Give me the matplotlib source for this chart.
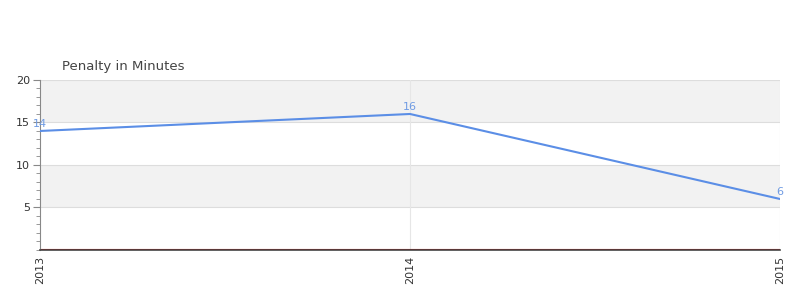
import matplotlib
matplotlib.use("Agg")
import matplotlib.pyplot as plt
from matplotlib.ticker import MultipleLocator

years = [2013, 2014, 2015]
penalty = [14, 16, 6]
yticks = [5, 10, 15, 20]

fig = plt.figure(figsize=(8, 3), dpi=100)
ax = fig.add_axes([0.05, 0.1667, 0.925, 0.5667])

ax.set_xlim(2013, 2015)
ax.set_ylim(0, 20)

# alternating bands
for lo, hi, c in [(15, 20, "#f2f2f2"), (5, 10, "#f2f2f2")]:
    ax.axhspan(lo, hi, color=c, zorder=0, lw=0)
for y in yticks:
    ax.axhline(y, color="#dddddd", lw=0.8, zorder=1)
for x in years[1:]:
    ax.axvline(x, color="#e6e6e6", lw=0.8, zorder=1)

ax.plot(years, penalty, color="#5b8ee6", lw=1.5, zorder=3)
for x, y in zip(years, penalty):
    ax.annotate(str(y), (x, y), xytext=(0, 1.5), textcoords="offset points",
                ha="center", va="bottom", fontsize=8, color="#6f9be3", zorder=4)

ax.axhline(0.1, color="#cc0000", lw=0.8, zorder=2)

for s in ["top", "right"]:
    ax.spines[s].set_visible(False)
ax.spines["left"].set_color("#888888")
ax.spines["bottom"].set_color("#444444")
ax.spines["bottom"].set_linewidth(1.2)

ax.set_xticks(years)
ax.set_xticklabels([str(y) for y in years], rotation=90, fontsize=8, color="#333333")
ax.set_yticks(yticks)
ax.set_yticklabels([str(y) for y in yticks], fontsize=8, color="#333333")
ax.yaxis.set_minor_locator(MultipleLocator(1))
ax.tick_params(axis="y", which="major", length=5, color="#888888", pad=2)
ax.tick_params(axis="y", which="minor", length=3, color="#888888")
ax.tick_params(axis="x", length=0, pad=4)

fig.text(0.0775, 0.777, "Penalty in Minutes", fontsize=9.5, color="#444444", ha="left", va="center")

fig.savefig("out.png", dpi=100)
